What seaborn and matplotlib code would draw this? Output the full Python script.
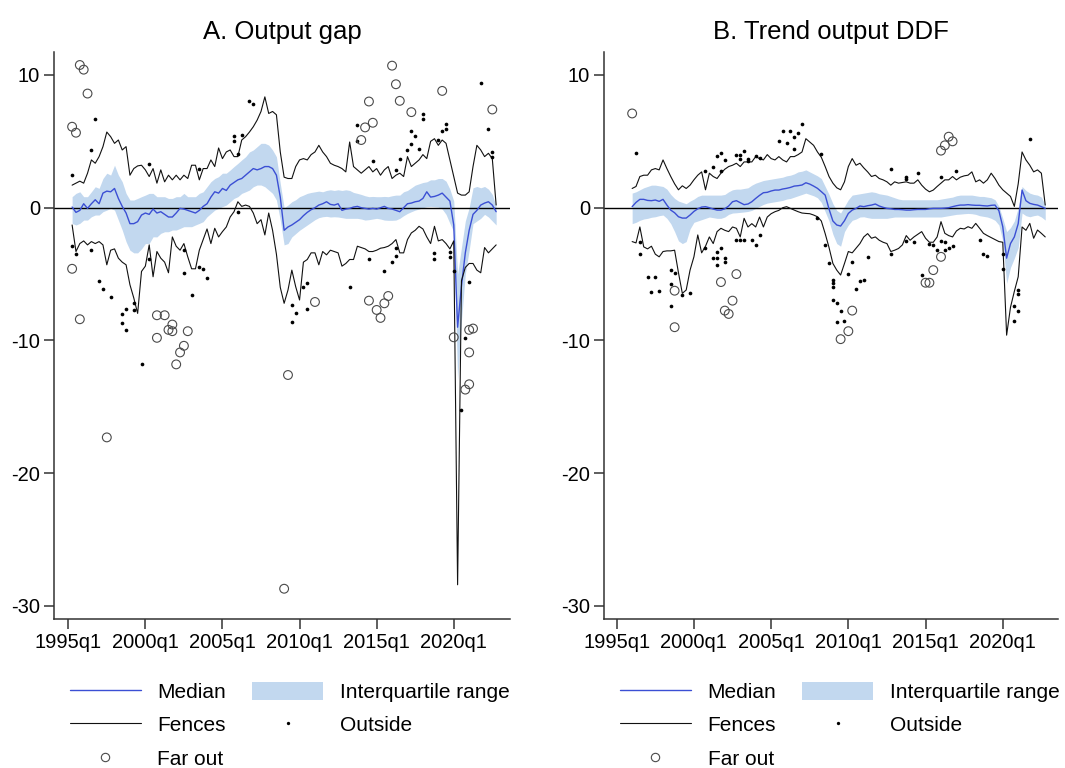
import numpy as np
import pandas as pd
import matplotlib
matplotlib.use("Agg")
import matplotlib.pyplot as plt
import seaborn as sns
from matplotlib.lines import Line2D
from matplotlib.patches import Patch

# ---------------------------------------------------------------------------
# Quarterly cross-country distribution summaries
# ---------------------------------------------------------------------------
FIRST_QUARTER = "1995q1"
TICK_QUARTERS = ["1995q1", "2000q1", "2005q1", "2010q1", "2015q1", "2020q1"]
Y_TICKS = [10, 0, -10, -20, -30]

# Panel A: output gap, 1995q2-2022q4
gap_start = "1995q2"
gap_median = [
    0.05, -0.35, -0.2, 0.3, -0.05, 0.3, 0.6, 0.3, 1.1, 1.25,
    1.2, 1.45, 0.7, 0.1, -0.4, -1.2, -1.2, -1.05, -0.55, -0.4,
    -0.5, -0.1, -0.4, -0.3, -0.5, -0.7, -0.7, -0.4, -0.05, -0.1,
    -0.2, -0.3, -0.4, -0.2, 0.1, 0.3, 0.8, 1.2, 1.1, 1.45,
    1.3, 1.7, 1.9, 2.1, 2.2, 2.45, 2.7, 2.95, 2.85, 2.95,
    3.1, 3.1, 2.95, 2.45, 0.8, -1.7, -1.45, -1.3, -1.1, -0.9,
    -0.6, -0.35, -0.15, 0.0, 0.2, 0.3, 0.45, 0.25, 0.2, 0.3,
    -0.2, -0.1, -0.05, 0.05, 0.1, 0.0, -0.05, -0.1, -0.05, -0.1,
    0.0, 0.1, -0.05, -0.1, -0.2, -0.3, 0.0, 0.3, 0.35, 0.45,
    0.5, 0.7, 1.2, 0.8, 0.85, 0.95, 1.1, 0.8, 0.5, -1.3,
    -9.0, -5.9, -3.4, -1.7, -0.5, -0.2, 0.2, 0.35, 0.45, 0.2,
    -0.3,
]
gap_p75 = [
    0.83, 1.08, 1.2, 0.83, 0.83, 1.2, 1.58, 1.46, 2.2, 2.6,
    2.46, 3.2, 2.46, 1.96, 1.08, 0.58, 0.58, 0.7, 0.83, 0.95,
    1.08, 1.08, 0.83, 0.83, 0.83, 0.7, 0.7, 0.83, 0.83, 1.08,
    0.83, 0.83, 0.83, 1.08, 1.2, 1.58, 1.96, 2.2, 2.34, 2.6,
    2.6, 2.84, 3.1, 3.34, 3.6, 3.84, 4.2, 4.35, 4.6, 4.85,
    4.85, 4.72, 4.35, 3.84, 1.83, 0.0, 0.2, 0.45, 0.6, 0.83,
    0.95, 1.08, 1.15, 1.2, 1.25, 1.2, 1.3, 1.35, 1.3, 1.35,
    1.3, 1.35, 1.3, 1.15, 1.08, 1.0, 0.9, 0.83, 0.85, 0.83,
    0.83, 0.85, 0.83, 0.9, 0.95, 0.95, 1.2, 1.3, 1.5, 1.7,
    1.8, 1.9, 1.95, 2.1, 2.1, 2.2, 2.2, 2.0, 1.4, 0.5,
    -5.0, -3.0, -1.0, 0.0, 1.5, 1.6, 1.5, 1.6, 1.4, 1.0,
    0.1,
]
gap_p25 = [
    -1.18, -1.3, -1.18, -0.93, -0.93, -0.68, -0.55, -0.55, -0.3, -0.18,
    -0.05, -0.18, -0.93, -1.68, -2.56, -3.2, -3.4, -3.4, -3.1, -2.7,
    -2.69, -2.19, -2.2, -1.93, -1.81, -1.81, -1.68, -1.68, -1.56, -1.43,
    -1.43, -1.43, -1.3, -1.18, -1.05, -0.68, -0.43, -0.18, -0.05, 0.08,
    0.2, 0.45, 0.7, 0.83, 1.08, 1.2, 1.33, 1.58, 1.71, 1.71,
    1.58, 1.33, 1.08, 0.58, -0.93, -2.8, -2.7, -2.2, -1.95, -1.7,
    -1.5, -1.3, -1.1, -0.9, -0.75, -0.68, -0.65, -0.7, -0.68, -0.7,
    -0.75, -0.8, -0.8, -0.8, -0.8, -0.85, -0.93, -0.9, -0.85, -0.8,
    -0.85, -0.93, -0.95, -0.95, -0.93, -0.8, -0.6, -0.43, -0.3, -0.18,
    -0.1, 0.0, 0.08, 0.1, 0.08, 0.05, -0.1, -0.5, -1.18, -1.8,
    -13.0, -8.5, -5.0, -3.2, -1.2, -1.0, -0.8, -0.5, -0.7, -1.0,
    -1.3,
]
gap_upper = [
    1.7, 1.85, 2.0, 1.85, 2.6, 3.6, 3.35, 3.85, 4.6, 5.7,
    5.35, 4.85, 5.1, 4.35, 4.6, 2.45, 2.95, 3.15, 3.2, 2.85,
    2.35, 2.95, 1.85, 2.85, 1.95, 2.45, 2.1, 2.45, 2.1, 2.45,
    2.2, 3.2, 3.2, 2.1, 2.95, 2.95, 3.6, 3.1, 4.5, 3.7,
    4.2, 4.35, 3.85, 3.85, 5.1, 5.35, 5.7, 6.1, 6.6, 7.25,
    8.35, 7.1, 7.25, 7.0, 4.2, 2.3, 2.2, 2.2, 3.1, 3.6,
    3.7, 3.6, 4.0, 4.2, 4.7, 4.2, 3.85, 3.35, 3.2, 3.1,
    2.95, 2.7, 4.95, 3.1, 2.85, 2.6, 2.85, 3.1, 2.7, 2.95,
    2.45, 2.85, 3.1, 2.2, 2.45, 2.6, 2.35, 3.85, 3.1, 3.35,
    3.6, 4.0, 3.7, 5.0, 5.2, 4.7, 5.1, 4.85, 3.6, 2.35,
    1.1, 0.95, 0.95, 1.2, 3.1, 4.7, 4.35, 3.85, 4.1, 3.7,
    0.2,
]
gap_lower = [
    -1.3, -3.3, -2.7, -2.5, -2.8, -2.55, -2.7, -2.55, -2.8, -4.3,
    -3.2, -3.1, -3.8, -4.1, -4.3, -5.8, -6.8, -7.96, -4.8, -4.4,
    -2.8, -5.2, -3.3, -3.8, -4.1, -4.9, -2.2, -2.9, -3.2, -2.7,
    -3.7, -4.6, -4.6, -3.2, -2.4, -1.6, -2.7, -1.55, -2.2, -1.8,
    -1.45, -0.7, -0.3, 0.45, 0.1, 0.2, 0.1, -0.4, -1.2, -0.9,
    -2.05, -0.4, -1.7, -3.5, -6.0, -7.2, -6.2, -4.7, -5.95, -6.95,
    -4.1, -3.9, -3.4, -3.4, -4.3, -3.3, -3.55, -3.2, -3.3, -3.4,
    -4.4, -4.2, -3.9, -3.9, -2.9, -3.0, -3.1, -3.3, -3.3, -3.2,
    -3.05, -3.0, -2.9, -2.7, -2.4, -3.4, -3.4, -2.4, -1.9, -1.7,
    -1.4, -1.6, -2.2, -2.7, -1.4, -2.5, -2.4, -2.7, -3.1, -2.5,
    -28.4, -5.5, -4.5, -4.2, -4.2, -4.7, -4.9, -3.0, -3.4, -3.1,
    -2.8,
]
gap_outside_q = [
    "1995q2", "1996q4", "1996q3", "2000q2", "2003q3", "2005q4", "2005q4",
    "2006q2", "2006q1", "2006q4", "2007q1", "2006q1", "2013q4", "2013q4",
    "2014q4", "2016q2", "2016q3", "2017q1", "2017q2", "2017q3", "2017q2",
    "2017q4", "2018q1", "2018q1", "2019q1", "2019q2", "2019q3", "2019q3",
    "2021q4", "2022q2", "2022q3", "2022q3",
    "1995q2", "1995q3", "1996q3", "1997q1", "1997q2", "1997q4", "1999q2",
    "1998q4", "1998q3", "1999q2", "1998q3", "1998q4", "1999q4", "2000q2",
    "2002q3", "2002q3", "2003q1", "2003q3", "2003q4", "2004q1", "2010q2",
    "2010q3", "2009q3", "2009q4", "2009q3", "2010q3", "2013q2", "2014q3",
    "2015q3", "2016q1", "2016q2", "2016q2", "2018q4", "2018q4", "2019q4",
    "2019q4", "2020q1", "2021q1", "2020q4", "2020q3",
]
gap_outside_v = [
    2.5, 6.7, 4.35, 3.3, 2.9, 5.4, 5.0,
    5.5, 4.05, 8.05, 7.85, -0.35, 6.2, 5.0,
    3.55, 2.85, 3.65, 4.35, 5.8, 5.4, 4.8,
    4.4, 7.05, 6.7, 5.1, 5.75, 6.3, 5.9,
    9.4, 5.9, 4.2, 3.8,
    -2.85, -3.5, -3.2, -5.5, -6.1, -6.75, -7.15,
    -7.6, -8.0, -7.7, -8.7, -9.2, -11.8, -3.9,
    -3.2, -4.9, -6.6, -4.45, -4.6, -5.3, -6.0,
    -5.7, -7.3, -7.9, -8.6, -7.65, -6.0, -3.9,
    -4.8, -4.1, -3.05, -3.6, -3.4, -3.9, -3.35,
    -3.7, -4.8, -5.6, -9.8, -15.2,
]
gap_farout_q = [
    "1995q4", "1996q1", "1996q2", "1995q2", "1995q3", "2016q1", "2016q2",
    "2014q3", "2014q4", "2014q2", "2014q1", "2016q3", "2017q2", "2019q2",
    "2022q3",
    "1995q2", "1995q4", "1997q3", "2000q4", "2001q2", "2001q4", "2001q3",
    "2001q4", "2000q4", "2002q4", "2002q3", "2002q2", "2002q1", "2009q1",
    "2009q2", "2011q1", "2014q3", "2015q1", "2015q2", "2015q3", "2015q4",
    "2020q1", "2020q4", "2021q1", "2021q1", "2021q1", "2021q2",
]
gap_farout_v = [
    10.75, 10.4, 8.6, 6.1, 5.65, 10.7, 9.3,
    8.0, 6.4, 6.05, 5.1, 8.05, 7.2, 8.8,
    7.4,
    -4.6, -8.4, -17.3, -8.1, -8.1, -8.8, -9.2,
    -9.3, -9.8, -9.3, -10.4, -10.9, -11.8, -28.7,
    -12.6, -7.1, -7.0, -7.7, -8.3, -7.2, -6.65,
    -9.76, -13.7, -9.2, -10.9, -13.3, -9.1,
]

# Panel B: trend output DDF, 1996q1-2022q4
ddf_start = "1996q1"
ddf_median = [
    0.08, 0.4, 0.63, 0.63, 0.55, 0.53, 0.58, 0.48, 0.63, 0.2,
    -0.18, -0.38, -0.68, -0.78, -0.78, -0.55, -0.28, -0.08, 0.05, 0.08,
    0.0, -0.1, -0.18, -0.18, -0.08, 0.13, 0.45, 0.53, 0.38, 0.23,
    0.28, 0.45, 0.7, 0.93, 1.13, 1.16, 1.26, 1.33, 1.33, 1.41,
    1.46, 1.53, 1.63, 1.66, 1.71, 1.88, 1.78, 1.63, 1.46, 1.21,
    0.95, -0.1, -1.0, -1.3, -1.38, -0.98, -0.43, -0.18, -0.05, 0.13,
    0.08, 0.15, 0.2, 0.28, 0.13, 0.03, -0.05, -0.08, -0.13, -0.13,
    -0.15, -0.18, -0.18, -0.15, -0.13, -0.13, -0.13, -0.08, -0.05, -0.05,
    -0.05, -0.03, 0.0, 0.08, 0.15, 0.2, 0.2, 0.23, 0.2, 0.18,
    0.18, 0.15, 0.13, 0.18, 0.2, -0.23, -1.43, -3.8, -2.7, -2.2,
    -1.2, 1.33, 0.53, 0.33, 0.25, 0.2, 0.08, -0.05,
]
ddf_p75 = [
    1.1, 1.2, 1.35, 1.5, 1.6, 1.7, 1.7, 1.65, 1.6, 1.4,
    1.0, 0.7, 0.5, 0.4, 0.3, 0.5, 0.65, 0.85, 0.95, 0.95,
    0.95, 0.95, 0.95, 0.95, 1.0, 1.2, 1.35, 1.4, 1.4, 1.45,
    1.5, 1.7, 1.85, 1.95, 2.05, 2.1, 2.15, 2.2, 2.25, 2.3,
    2.4, 2.45, 2.55, 2.7, 2.75, 2.85, 2.7, 2.55, 2.4, 2.2,
    1.6, 1.0, 0.3, -0.2, -0.4, 0.1, 0.6, 0.95, 1.0, 1.05,
    1.1, 1.15, 1.2, 1.15, 1.05, 1.0, 0.95, 0.85, 0.75, 0.65,
    0.6, 0.6, 0.6, 0.6, 0.6, 0.6, 0.6, 0.6, 0.6, 0.6,
    0.65, 0.7, 0.75, 0.8, 0.9, 0.95, 0.95, 0.95, 0.95, 0.9,
    0.85, 0.85, 0.8, 0.75, 0.6, 0.1, -0.8, -1.8, -1.5, -1.0,
    0.0, 1.6, 1.3, 1.1, 1.0, 0.95, 0.8, 0.2,
]
ddf_p25 = [
    -1.2, -1.1, -0.95, -0.85, -0.8, -0.72, -0.68, -0.6, -0.55, -0.8,
    -1.2, -1.8, -2.5, -2.7, -2.55, -1.6, -1.1, -1.0, -0.9, -0.8,
    -0.7, -0.75, -0.8, -0.8, -0.7, -0.5, -0.4, -0.38, -0.35, -0.32,
    -0.28, -0.2, -0.05, 0.1, 0.25, 0.35, 0.4, 0.45, 0.5, 0.55,
    0.65, 0.7, 0.8, 0.9, 1.0, 1.1, 1.0, 0.9, 0.75, 0.4,
    -0.3, -1.0, -2.0, -2.7, -2.9, -1.8, -1.3, -0.95, -0.85, -0.7,
    -0.68, -0.75, -0.8, -0.8, -0.8, -0.8, -0.8, -0.75, -0.7, -0.7,
    -0.7, -0.7, -0.7, -0.7, -0.7, -0.7, -0.7, -0.7, -0.7, -0.7,
    -0.7, -0.65, -0.6, -0.55, -0.5, -0.48, -0.45, -0.43, -0.45, -0.5,
    -0.6, -0.65, -0.7, -0.8, -0.95, -1.3, -2.5, -5.7, -4.5, -3.8,
    -3.0, -0.4, -0.6, -0.68, -0.6, -0.55, -0.7, -0.93,
]
ddf_upper = [
    1.45, 1.6, 2.35, 2.45, 2.45, 2.85, 2.95, 2.85, 3.6, 2.95,
    2.35, 1.8, 1.35, 1.65, 1.45, 1.7, 2.1, 2.45, 2.7, 1.35,
    2.6, 2.35, 2.2, 2.6, 2.9, 3.1, 3.2, 3.35, 3.1, 3.45,
    3.45, 3.45, 3.85, 3.7, 3.6, 4.0, 3.7, 3.6, 3.85, 3.6,
    3.45, 3.85, 3.85, 4.0, 4.2, 5.2, 4.95, 4.7, 4.2, 3.8,
    3.1, 2.35, 1.85, 1.5, 1.35, 1.95, 3.1, 3.7, 3.2, 3.35,
    3.0, 2.7, 2.35, 2.45, 2.2, 2.1, 1.95, 1.7, 1.95, 1.85,
    1.9, 1.95, 1.85, 1.85, 2.1, 1.7, 1.4, 1.2, 1.33, 1.6,
    1.85, 2.1, 2.1, 2.35, 2.1, 2.3, 2.4, 2.45, 2.7, 1.95,
    2.1, 1.85, 2.1, 2.6, 2.2, 1.7, 1.35, 1.1, 0.85, 0.1,
    1.8, 4.2, 3.6, 3.2, 2.7, 2.85, 2.6, 0.2,
]
ddf_lower = [
    -2.55, -2.65, -1.45, -2.95, -3.1, -2.9, -3.5, -3.7, -3.3, -3.25,
    -3.25, -3.2, -4.9, -6.45, -6.2, -4.7, -3.7, -2.05, -3.4, -2.9,
    -2.2, -2.7, -1.8, -1.55, -1.7, -1.8, -1.45, -1.55, -2.2, -0.8,
    -1.45, -1.2, -1.45, -0.7, -1.45, -0.7, -0.45, -0.3, -0.2, 0.0,
    0.08, -0.05, -0.18, -0.3, -0.4, -0.43, -0.45, -0.55, -0.68, -1.0,
    -1.95, -3.0, -4.2, -4.7, -5.07, -4.2, -3.3, -3.4, -3.05, -2.7,
    -2.2, -1.95, -2.3, -2.2, -2.45, -2.6, -2.7, -3.3, -3.2, -3.07,
    -2.8, -2.1, -2.45, -2.2, -2.0, -1.8, -2.3, -2.6, -2.6, -2.2,
    -1.05, -1.93, -2.1, -2.2, -1.75, -1.55, -1.6, -1.43, -1.55, -1.18,
    -1.55, -1.93, -2.1, -2.25, -2.4, -2.55, -2.6, -9.6, -7.5, -6.3,
    -5.2, -1.45, -1.7, -1.18, -2.3, -1.68, -1.93, -2.2,
]
ddf_outside_q = [
    "1996q2", "2000q4", "2001q2", "2001q3", "2001q4", "2002q1", "2001q4",
    "2002q4", "2003q1", "2003q1", "2003q2", "2003q3", "2003q3", "2004q1",
    "2004q2", "2005q3", "2005q4", "2006q1", "2006q2", "2006q3", "2006q3",
    "2006q4", "2007q1", "2008q2", "2012q4", "2013q4", "2013q4", "2014q3",
    "2016q1", "2017q1", "2021q4",
    "1996q3", "1996q3", "1997q1", "1997q2", "1997q3", "1997q4", "1998q3",
    "1998q3", "1998q3", "1998q4", "1999q2", "1999q4", "2000q4", "2001q2",
    "2001q3", "2001q3", "2001q3", "2001q4", "2002q1", "2002q1", "2002q4",
    "2003q1", "2003q2", "2003q4", "2004q1", "2004q2", "2008q1", "2008q3",
    "2008q4", "2009q1", "2009q1", "2009q1", "2009q1", "2009q2", "2009q2",
    "2009q3", "2009q4", "2010q1", "2010q2", "2010q3", "2010q4", "2011q1",
    "2011q2", "2012q4", "2013q4", "2014q2", "2014q4", "2015q2", "2015q3",
    "2015q4", "2016q1", "2016q2", "2016q2", "2016q3", "2016q4", "2018q3",
    "2018q4", "2019q1", "2020q1", "2020q1", "2020q4", "2020q4", "2021q1",
    "2021q1", "2021q1",
]
ddf_outside_v = [
    4.1, 2.8, 3.1, 3.9, 4.15, 3.6, 2.75,
    3.95, 3.95, 3.65, 4.3, 3.7, 3.55, 3.9,
    3.75, 5.05, 5.8, 4.85, 5.75, 5.3, 4.4,
    5.6, 6.3, 4.05, 2.9, 2.35, 2.15, 2.65,
    2.35, 2.75, 5.15,
    -2.6, -3.5, -5.25, -6.35, -5.25, -6.25, -4.7,
    -5.75, -7.4, -4.95, -6.6, -6.45, -3.0, -3.8,
    -3.3, -3.8, -4.35, -3.05, -3.8, -4.1, -2.4,
    -2.4, -2.4, -2.4, -2.8, -2.05, -0.8, -2.8,
    -4.2, -5.45, -5.7, -6.0, -6.95, -7.2, -8.6,
    -7.75, -8.5, -5.0, -4.1, -6.1, -5.5, -5.45,
    -3.7, -3.5, -2.5, -2.6, -5.1, -2.75, -2.8,
    -3.2, -2.5, -2.6, -3.2, -3.0, -2.9, -2.4,
    -3.45, -3.65, -3.5, -4.6, -7.4, -8.5, -6.2,
    -6.5, -7.75,
]
ddf_farout_q = [
    "1996q1", "2016q1", "2016q2", "2016q3", "2016q4",
    "1998q4", "1998q4", "2001q4", "2002q1", "2002q2", "2002q3", "2002q4",
    "2009q3", "2010q1", "2010q2", "2015q1", "2015q2", "2015q3", "2016q1",
]
ddf_farout_v = [
    7.1, 4.3, 4.7, 5.35, 5.0,
    -6.25, -9.0, -5.6, -7.75, -8.0, -7.0, -5.0,
    -9.9, -9.3, -7.75, -5.65, -5.65, -4.7, -3.7,
]

# ---------------------------------------------------------------------------
# Styling
# ---------------------------------------------------------------------------
MEDIAN_COLOR = "#3b4fd4"
IQR_COLOR = "#c2d8ef"
FENCE_COLOR = "#111111"
AXIS_COLOR = "#333333"
FAR_EDGE = "#4a4a4a"

sns.set_theme(style="white")
plt.rcParams["font.family"] = ["Liberation Sans", "DejaVu Sans"]
plt.rcParams["axes.unicode_minus"] = False
plt.rcParams["text.color"] = "black"
plt.rcParams["axes.titlecolor"] = "black"
plt.rcParams["xtick.labelcolor"] = "black"
plt.rcParams["ytick.labelcolor"] = "black"

ORIGIN = pd.Period(FIRST_QUARTER.upper(), freq="Q")


def qpos(label):
    """Number of quarters since the first quarter on the axis."""
    return (pd.Period(label.upper(), freq="Q") - ORIGIN).n


def draw_panel(ax, title, start, med, p25, p75, upper, lower,
               out_q, out_v, far_q, far_v):
    x0 = qpos(start)
    df = pd.DataFrame({
        "t": np.arange(x0, x0 + len(med)),
        "median": med, "p25": p25, "p75": p75,
        "upper": upper, "lower": lower,
    })
    outside = pd.DataFrame({"t": [qpos(q) for q in out_q], "v": out_v})
    farout = pd.DataFrame({"t": [qpos(q) for q in far_q], "v": far_v})

    ax.fill_between(df["t"], df["p25"], df["p75"], color=IQR_COLOR, lw=0, zorder=1)
    ax.axhline(0, color="black", lw=1.0, zorder=2)
    sns.lineplot(data=df, x="t", y="median", ax=ax, color=MEDIAN_COLOR,
                 lw=1.0, zorder=3)
    sns.lineplot(data=df, x="t", y="upper", ax=ax, color=FENCE_COLOR,
                 lw=0.8, zorder=4)
    sns.lineplot(data=df, x="t", y="lower", ax=ax, color=FENCE_COLOR,
                 lw=0.8, zorder=4)
    sns.scatterplot(data=outside, x="t", y="v", ax=ax, color="black",
                    s=7, marker="o", linewidth=0, zorder=5)
    sns.scatterplot(data=farout, x="t", y="v", ax=ax, facecolors="none",
                    edgecolor=FAR_EDGE, s=40, marker="o", linewidth=0.8,
                    zorder=5)

    ax.set_title(title, fontsize=18.5, pad=9, color="black")
    ax.set_ylim(-30.98, 11.73)
    ax.set_xticks([qpos(q) for q in TICK_QUARTERS])
    ax.set_xticklabels(TICK_QUARTERS)
    ax.set_yticks(Y_TICKS)
    ax.set_yticklabels([str(v) for v in Y_TICKS])
    ax.set_xlabel("")
    ax.set_ylabel("")
    for side in ("top", "right"):
        ax.spines[side].set_visible(False)
    for side in ("left", "bottom"):
        ax.spines[side].set_color(AXIS_COLOR)
        ax.spines[side].set_linewidth(1.1)
    ax.tick_params(axis="both", which="major", direction="out", length=7,
                   width=1.1, color=AXIS_COLOR, labelcolor="black",
                   labelsize=14.5, pad=3, bottom=True, left=True)


def add_legend(ax, fig, anchor_x, anchor_y):
    handles = [
        Line2D([], [], color=MEDIAN_COLOR, lw=1.0),
        Line2D([], [], color=FENCE_COLOR, lw=0.8),
        Line2D([], [], ls="none", marker="o", markersize=6,
               markerfacecolor="none", markeredgecolor=FAR_EDGE,
               markeredgewidth=0.8),
        Patch(facecolor=IQR_COLOR, edgecolor="none"),
        Line2D([], [], ls="none", marker="o", markersize=2.4,
               markerfacecolor="black", markeredgewidth=0, color="black"),
    ]
    labels = ["Median", "Fences", "Far out", "Interquartile range", "Outside"]
    leg = ax.legend(handles, labels, ncol=2, loc="upper left",
                    bbox_to_anchor=(anchor_x, anchor_y),
                    bbox_transform=fig.transFigure, frameon=False,
                    fontsize=15, borderpad=0, borderaxespad=0,
                    handlelength=3.4, handleheight=1.0, handletextpad=0.8,
                    columnspacing=1.25, labelspacing=0.62)
    for txt in leg.get_texts():
        txt.set_color("black")


fig = plt.figure(figsize=(10.65, 7.68), dpi=100)
ax_a = fig.add_axes([0.0507, 0.194, 0.4282, 0.7383])
ax_b = fig.add_axes([0.5671, 0.194, 0.4263, 0.7383])

draw_panel(ax_a, "A. Output gap", gap_start, gap_median, gap_p25, gap_p75,
           gap_upper, gap_lower, gap_outside_q, gap_outside_v,
           gap_farout_q, gap_farout_v)
ax_a.set_xlim(-3.7, 114.6)

draw_panel(ax_b, "B. Trend output DDF", ddf_start, ddf_median, ddf_p25,
           ddf_p75, ddf_upper, ddf_lower, ddf_outside_q, ddf_outside_v,
           ddf_farout_q, ddf_farout_v)
ax_b.set_xlim(-3.3, 114.3)

add_legend(ax_a, fig, 0.0657, 0.1126)
add_legend(ax_b, fig, 0.5822, 0.1126)

fig.savefig("out.png", dpi=100, facecolor="white")
